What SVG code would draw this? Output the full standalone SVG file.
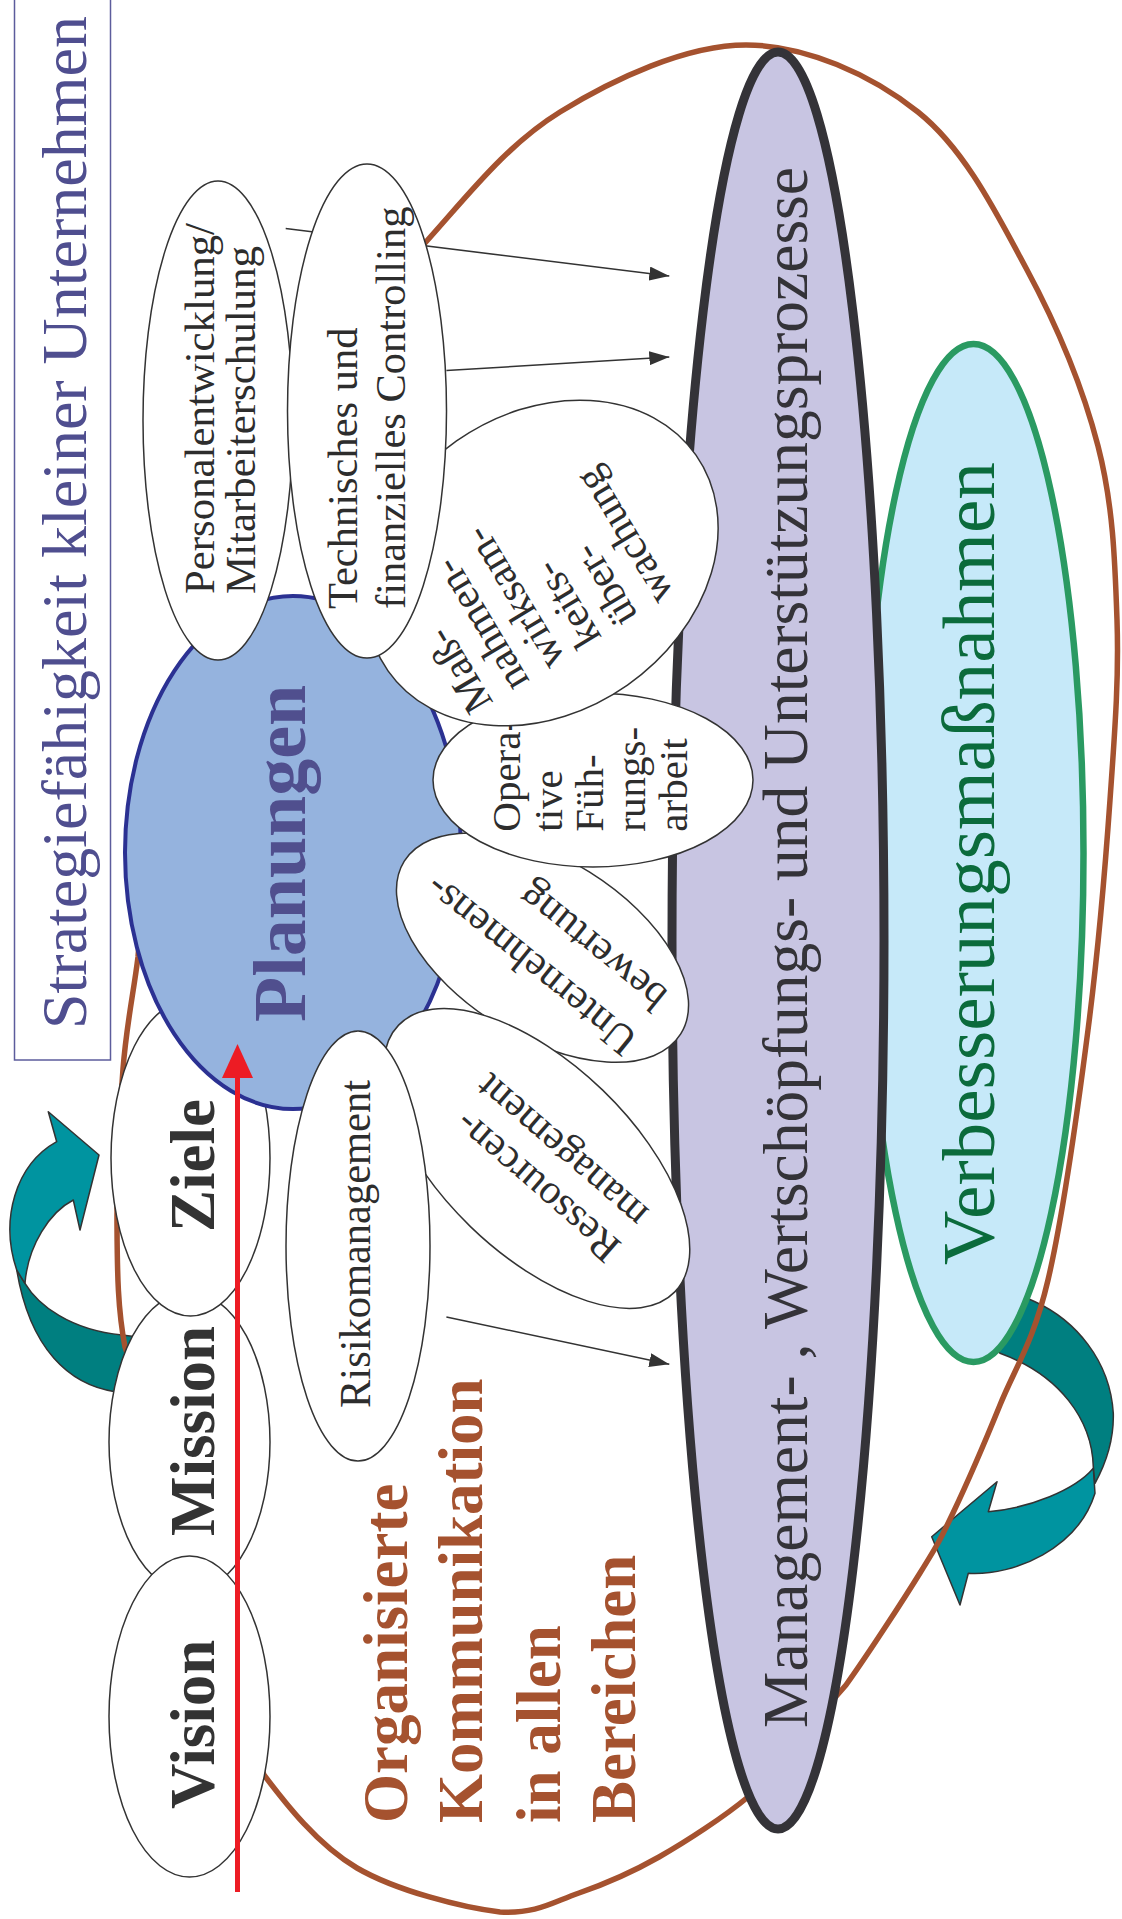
<svg xmlns="http://www.w3.org/2000/svg" width="1122" height="1919" viewBox="0 0 1122 1919">
<defs>
<style>
.t{font-family:'Liberation Serif','Times New Roman',serif;}
.b{font-weight:bold;}
.wn{fill:#ffffff;stroke:#333333;stroke-width:1.5;}
.tx{fill:#2d2d2d;}
.conn{stroke:#333333;stroke-width:1.5;fill:none;}
.teal1{fill:#0094a0;stroke:#333333;stroke-width:1.5;stroke-linejoin:round;}
.teal2{fill:#007f80;stroke:#333333;stroke-width:1.5;stroke-linejoin:round;}
</style>
<marker id="ah" markerUnits="userSpaceOnUse" markerWidth="20" markerHeight="14" refX="20" refY="7" orient="auto"><path d="M0,0 L20,7 L0,14 Z" fill="#333333"/></marker>
</defs>
<rect width="1122" height="1919" fill="#ffffff"/>

<g id="arrow-left">
<path class="teal2" d="M16.7,1270 L25,1283.3 C38,1305 70,1330 122,1335 L146,1338 L142,1396 L115,1391.7 C70,1385 30,1350 16.7,1270 Z"/>
<path class="teal1" d="M56.7,1141.7 L48.3,1111.7 L99,1155 L80,1230 L73.3,1200 C50,1212 28,1245 25,1283.3 L16.7,1270 C0,1220 15,1165 56.7,1141.7 Z"/>
</g>

<g id="arrow-right">
<path class="teal1" d="M1093.3,1468.3 C1075,1490 1030,1508 988.3,1511.7 L997,1481.7 L931.7,1536.7 L960,1605 L968.3,1573.3 C1015,1576 1078,1548 1095,1493.3 Z"/>
<path class="teal2" d="M980,1335 L1020,1295 L1035,1301.7 C1075,1320 1110,1360 1113.3,1413.3 C1114,1440 1105,1465 1095,1483.3 L1093.3,1466.7 C1092,1420 1060,1375 1000,1353.3 Z"/>
</g>

<g id="node-verbesserung">
<ellipse cx="973.5" cy="853" rx="110" ry="509" fill="#c6e9f9" stroke="#2a9a62" stroke-width="6.5"/>
<text class="t" transform="translate(994,1265) rotate(-90)" font-size="75" fill="#0b6b3c" textLength="803" lengthAdjust="spacingAndGlyphs">Verbesserungsmaßnahmen</text>
</g>

<g id="outline">
<path fill="none" stroke="#a5522f" stroke-width="5.5" stroke-linejoin="round" d="M425,243 C468.3,195 506.5,145 560,112 C613.5,79 686.3,45 746,45 C805.7,45 871.3,74.8 918,112 C964.7,149.2 996,212.3 1026,268 C1056,323.7 1082.8,387.3 1098,446 C1113.2,504.7 1115,561 1117,620 C1119,679 1114.8,731.7 1110,800 C1105.2,868.3 1098.3,950 1088,1030 C1077.7,1110 1062.7,1217.5 1048,1280 C1033.3,1342.5 1015.8,1366.2 1000,1405 C984.2,1443.8 966.3,1485 953,1513 C939.7,1541 937.8,1544.3 920,1573 C902.2,1601.7 866,1657.2 846,1685 L748,1797 C724.5,1816.5 687.2,1841 659,1857 C630.8,1873 605.5,1883.8 579,1893 C552.5,1902.2 537,1914 500,1912 C463,1907.8 396.3,1890.8 357,1868 C317.7,1845.2 285.2,1803 264,1775 L125,1347 C117.8,1309.8 117.3,1273.3 117,1227 C116.7,1180.7 119.5,1114 123,1069 C126.5,1024 133.5,993.5 138,957 L150,800 L200,650 L240,560 L300,400 Z"/>
</g>

<g id="node-prozesse">
<ellipse cx="778" cy="940.5" rx="106" ry="888.5" fill="#c8c5e2" stroke="#343338" stroke-width="9"/>
<text class="t" transform="translate(807,1728) rotate(-90)" font-size="64" fill="#343338" textLength="1561" lengthAdjust="spacingAndGlyphs">Management- , Wertschöpfungs- und Unterstützungsprozesse</text>
</g>

<g id="connectors">
<line class="conn" x1="285.7" y1="228.6" x2="669.3" y2="276" marker-end="url(#ah)"/>
<line class="conn" x1="446.4" y1="370.5" x2="669.3" y2="357" marker-end="url(#ah)"/>
<line class="conn" x1="446.4" y1="1317" x2="669.3" y2="1364.3" marker-end="url(#ah)"/>
</g>

<g id="node-mission">
<ellipse class="wn" cx="189.5" cy="1442" rx="80.5" ry="150"/>
<text class="t b" transform="translate(214,1536) rotate(-90)" font-size="63" fill="#333333">Mission</text>
</g>

<g id="node-vision">
<ellipse class="wn" cx="189.5" cy="1716.5" rx="80.5" ry="160.5"/>
<text class="t b" transform="translate(214,1809) rotate(-90)" font-size="63" fill="#333333">Vision</text>
</g>

<g id="node-ziele">
<ellipse class="wn" cx="190.5" cy="1158" rx="79.5" ry="158"/>
<text class="t b" transform="translate(214,1232) rotate(-90)" font-size="63" fill="#333333">Ziele</text>
</g>

<g id="node-planungen">
<ellipse cx="293" cy="852.5" rx="168" ry="256.5" fill="#95b3de" stroke="#2b3192" stroke-width="4"/>
<text class="t b" transform="translate(305,1022) rotate(-90)" font-size="74" fill="#504f8e">Planungen</text>
</g>

<g id="node-unternehmensbewertung">
<ellipse class="wn" cx="542.5" cy="947.6" rx="163" ry="89" transform="rotate(32 542.5 947.6)"/>
<g transform="translate(620,1038.3) rotate(-141)">
<text class="t tx" x="-14" y="14" font-size="42">Unternehmens-</text>
<text class="t tx" x="-9.4" y="67.4" font-size="42">bewertung</text>
</g>
</g>

<g id="node-operative">
<ellipse class="wn" cx="593" cy="780" rx="160" ry="87"/>
<g class="t tx" font-size="41">
<text transform="translate(520,831.7) rotate(-90)">Opera-</text>
<text transform="translate(561.7,831.7) rotate(-90)">tive</text>
<text transform="translate(603.3,831.7) rotate(-90)">Füh-</text>
<text transform="translate(645,831.7) rotate(-90)">rungs-</text>
<text transform="translate(686.7,831.7) rotate(-90)">arbeit</text>
</g>
</g>

<g id="node-massnahmen">
<ellipse class="wn" cx="542" cy="563" rx="188" ry="149" transform="rotate(-35 542 563)"/>
<g transform="translate(471.7,695) rotate(-121)" class="t tx" font-size="42">
<text x="-18" y="15">Maß-</text>
<text x="-18" y="57.2">nahmen-</text>
<text x="-18" y="99.4">wirksam-</text>
<text x="-18" y="141.6">keits-</text>
<text x="-18" y="183.8">über-</text>
<text x="-18" y="226">wachung</text>
</g>
</g>

<g id="node-personal">
<ellipse class="wn" cx="218" cy="420.5" rx="75" ry="239.5"/>
<text class="t tx" transform="translate(214,594) rotate(-90)" font-size="42" textLength="371" lengthAdjust="spacingAndGlyphs">Personalentwicklung/</text>
<text class="t tx" transform="translate(255,594) rotate(-90)" font-size="42" textLength="348" lengthAdjust="spacingAndGlyphs">Mitarbeiterschulung</text>
</g>

<g id="node-controlling">
<ellipse class="wn" cx="367" cy="411" rx="79.5" ry="247"/>
<text class="t tx" transform="translate(357,609) rotate(-90)" font-size="42.5">Technisches und</text>
<text class="t tx" transform="translate(405,609) rotate(-90)" font-size="42.5">finanzielles Controlling</text>
</g>

<g id="node-ressourcen">
<ellipse class="wn" cx="536.7" cy="1158.5" rx="192" ry="95" transform="rotate(44 536.7 1158.5)"/>
<g transform="translate(603.3,1245.5) rotate(-139)" class="t tx" font-size="41.5">
<text x="-14" y="14">Ressourcen-</text>
<text x="-12.4" y="57.3">management</text>
</g>
</g>

<g id="node-risiko">
<ellipse class="wn" cx="358" cy="1246" rx="72" ry="215"/>
<text class="t tx" transform="translate(370,1408) rotate(-90)" font-size="44" textLength="328" lengthAdjust="spacingAndGlyphs">Risikomanagement</text>
</g>

<g id="arrow-red">
<line x1="237.5" y1="1892" x2="237.5" y2="1070" stroke="#ed1c24" stroke-width="5"/>
<path d="M237.5,1044 L222,1078 L253,1078 Z" fill="#ed1c24"/>
</g>

<g id="title">
<rect x="14.5" y="-5" width="96" height="1065" fill="none" stroke="#5c5c9c" stroke-width="1.5"/>
<text class="t" transform="translate(86,1029) rotate(-90)" font-size="64" fill="#4f4e8f">Strategiefähigkeit kleiner Unternehmen</text>
</g>

<g id="label-kommunikation" class="t b" font-size="63" fill="#a5522f">
<text transform="translate(407,1823) rotate(-90)">Organisierte</text>
<text transform="translate(482,1823) rotate(-90)">Kommunikation</text>
<text transform="translate(559.5,1823) rotate(-90)">in allen</text>
<text transform="translate(635,1823) rotate(-90)">Bereichen</text>
</g>
</svg>
